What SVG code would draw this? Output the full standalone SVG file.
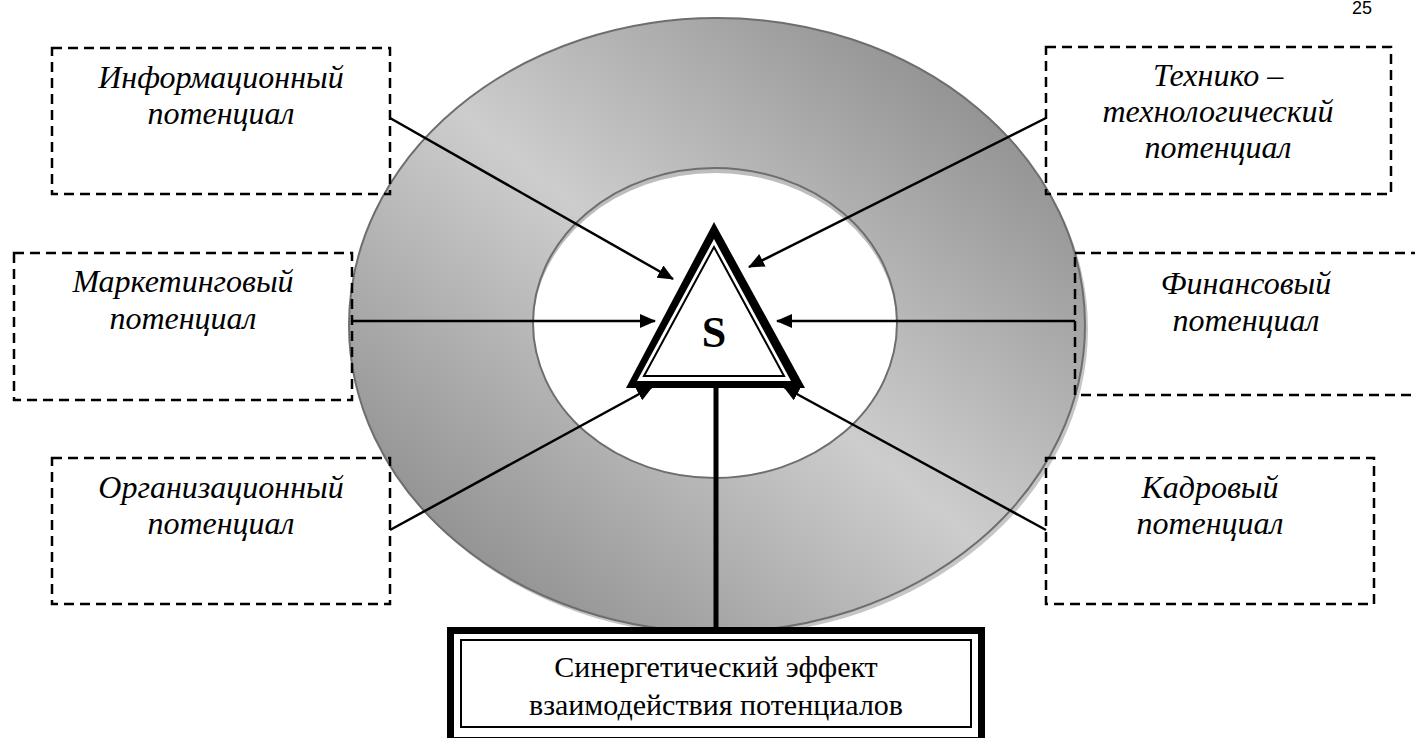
<svg xmlns="http://www.w3.org/2000/svg" width="1415" height="738" viewBox="0 0 1415 738">
<style>
.box{fill:none;stroke:#000;stroke-width:2.5;stroke-dasharray:10 6}
.lbl{font-family:"Liberation Serif","Times New Roman",serif;font-style:italic;font-size:32px;fill:#000;text-anchor:middle}
.con{stroke:#000;stroke-width:2.5;fill:none;marker-end:url(#arr)}
.btxt{font-family:"Liberation Serif","Times New Roman",serif;font-size:30px;fill:#000;text-anchor:middle}
</style>
<defs>
<linearGradient id="ringGrad" x1="1" y1="0" x2="0" y2="1">
<stop offset="0" stop-color="#7d7d7d"/>
<stop offset="0.5" stop-color="#cdcdcd"/>
<stop offset="1" stop-color="#7d7d7d"/>
</linearGradient>
<clipPath id="innerClip"><ellipse cx="715" cy="323" rx="182" ry="155"/></clipPath>
<marker id="arr" markerUnits="userSpaceOnUse" markerWidth="16" markerHeight="14" refX="15" refY="7" orient="auto">
<path d="M0,0 L16,7 L0,14 z" fill="#000"/>
</marker>
</defs>
<rect width="1415" height="738" fill="#fff"/>
<text x="1352" y="14" style="font-family:'Liberation Sans',Arial,sans-serif;font-size:18px">25</text>
<g id="ring">
<ellipse cx="720" cy="329" rx="368" ry="307" fill="#c6c6c6"/>
<ellipse cx="717" cy="325" rx="368" ry="307" fill="url(#ringGrad)" stroke="#6e6e6e" stroke-width="2"/>
<g clip-path="url(#innerClip)">
<rect x="520" y="160" width="400" height="330" fill="#bdbdbd"/>
<ellipse cx="715" cy="328" rx="182" ry="155" fill="#fff"/>
</g>
<ellipse cx="715" cy="323" rx="182" ry="155" fill="none" stroke="#6e6e6e" stroke-width="2"/>
</g>
<g id="connectors">
<line class="con" x1="390" y1="118" x2="673" y2="279"/>
<line class="con" x1="1046" y1="118" x2="749" y2="267"/>
<line class="con" x1="352" y1="321" x2="655" y2="321"/>
<line class="con" x1="1075" y1="321" x2="777" y2="321"/>
<line class="con" x1="390" y1="530" x2="652" y2="387"/>
<line class="con" x1="1046" y1="530" x2="784" y2="387"/>
<line x1="716" y1="388" x2="716" y2="628" stroke="#000" stroke-width="5"/>
</g>
<g id="node-info">
<rect class="box" x="52" y="48" width="338" height="146"/>
<text class="lbl" x="221" y="88">Информационный</text>
<text class="lbl" x="221" y="124">потенциал</text>
</g>
<g id="node-tech">
<rect class="box" x="1046" y="47" width="345" height="147"/>
<text class="lbl" x="1218" y="86">Технико –</text>
<text class="lbl" x="1218" y="122">технологический</text>
<text class="lbl" x="1218" y="158">потенциал</text>
</g>
<g id="node-market">
<rect class="box" x="14" y="253" width="338" height="147"/>
<text class="lbl" x="183" y="292">Маркетинговый</text>
<text class="lbl" x="183" y="329">потенциал</text>
</g>
<g id="node-fin">
<rect class="box" x="1075" y="253" width="345" height="142"/>
<text class="lbl" x="1246" y="294">Финансовый</text>
<text class="lbl" x="1246" y="331">потенциал</text>
</g>
<g id="node-org">
<rect class="box" x="52" y="458" width="338" height="146"/>
<text class="lbl" x="221" y="498">Организационный</text>
<text class="lbl" x="221" y="534">потенциал</text>
</g>
<g id="node-kadr">
<rect class="box" x="1046" y="458" width="328" height="146"/>
<text class="lbl" x="1210" y="498">Кадровый</text>
<text class="lbl" x="1210" y="534">потенциал</text>
</g>
<g id="node-s">
<polygon points="714,222 626,388 805,388" fill="#000"/>
<polygon points="714,239 637,381 791,381" fill="#fff"/>
<polygon points="714,247 644,376 784,376" fill="#fff" stroke="#000" stroke-width="2"/>
<text x="714" y="347" style="font-family:'Liberation Serif','Times New Roman',serif;font-weight:bold;font-size:44px;text-anchor:middle">S</text>
</g>
<g id="node-effect">
<rect x="450.5" y="630.5" width="531" height="110" fill="#fff" stroke="#000" stroke-width="7"/>
<rect x="461" y="640" width="510" height="87" fill="none" stroke="#000" stroke-width="2"/>
<text class="btxt" x="716" y="677">Синергетический эффект</text>
<text class="btxt" x="716" y="715">взаимодействия потенциалов</text>
</g>
</svg>
